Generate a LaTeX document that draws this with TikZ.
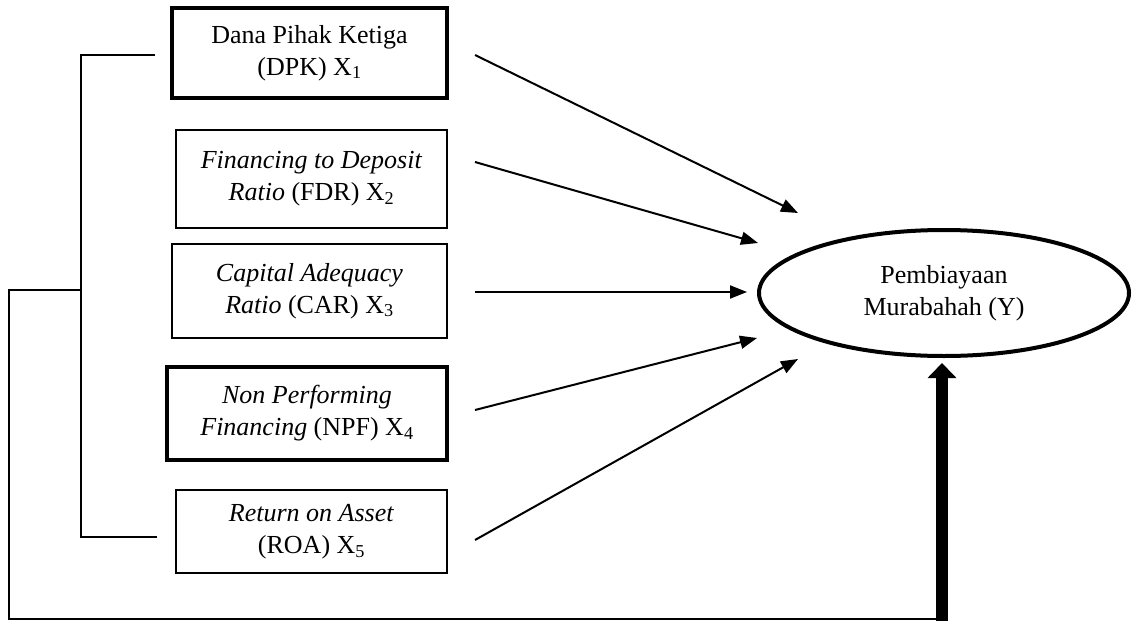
\documentclass[tikz,border=0pt]{standalone}
\usepackage{fontspec}
\setmainfont{Liberation Serif}
\usetikzlibrary{arrows.meta,shapes.geometric,calc}
\begin{document}
\begin{tikzpicture}[x=1pt,y=-1pt,
  box/.style={draw, line width=1.3pt, rectangle, inner sep=0pt, outer sep=0pt, align=center, font=\fontsize{26}{32}\selectfont},
  thickbox/.style={box, line width=4pt},
  link/.style={line width=2pt, -{Triangle[length=17pt,width=13pt]}},
  bracket/.style={line width=1.6pt},
  bigarrow/.style={line width=12pt, -{Triangle[length=15pt,width=28pt]}},
  target/.style={ellipse, draw, line width=4pt, minimum width=370pt, minimum height=126pt, inner sep=0pt, outer sep=0pt, align=center, font=\fontsize{26}{32}\selectfont}
]
\useasboundingbox (0,0) rectangle (1137,621);

\node[thickbox, minimum width=275pt, minimum height=90pt] (b1) at (309.5,53) {Dana Pihak Ketiga\\(DPK) X\textsubscript{1}};
\node[box, minimum width=271pt, minimum height=98pt] (b2) at (311.5,179) {\textit{Financing to Deposit}\\\textit{Ratio} (FDR) X\textsubscript{2}};
\node[box, minimum width=275pt, minimum height=94pt] (b3) at (309.5,291) {\textit{Capital Adequacy}\\\textit{Ratio} (CAR) X\textsubscript{3}};
\node[thickbox, minimum width=280pt, minimum height=93pt] (b4) at (307,413.5) {\textit{Non Performing}\\\textit{Financing} (NPF) X\textsubscript{4}};
\node[box, minimum width=271pt, minimum height=83pt] (b5) at (311.5,531.5) {\textit{Return on Asset}\\(ROA) X\textsubscript{5}};

\node[target] (y) at (944,293) {Pembiayaan\\Murabahah (Y)};

% arrow ends
\coordinate (s1) at ($(b1.east)+(28,2)$);
\coordinate (s2) at ($(b2.east)+(28,-17)$);
\coordinate (s3) at ($(b3.east)+(28,1)$);
\coordinate (s4) at ($(b4.east)+(28,-3.5)$);
\coordinate (s5) at ($(b5.east)+(28,8.5)$);
\coordinate (t1) at ($(y.center)+(-146,-80)$);
\coordinate (t2) at ($(y.center)+(-186,-50)$);
\coordinate (t3) at ($(y.center)+(-197,-1)$);
\coordinate (t4) at ($(y.center)+(-187,45)$);
\coordinate (t5) at ($(y.center)+(-146,66)$);

\draw[link] (s1) -- (t1);
\draw[link] (s2) -- (t2);
\draw[link] (s3) -- (t3);
\draw[link] (s4) -- (t4);
\draw[link] (s5) -- (t5);

% bracket
\coordinate (k1) at ($(b1.west)+(-17,2)$);
\coordinate (k5) at ($(b5.west)+(-19,5.5)$);
\coordinate (kv) at (81,290);
\coordinate (out) at (9,290);
\coordinate (corner) at (9,619);
\coordinate (bot) at (942,619);
\coordinate (botedge) at (942,621);
\draw[bracket] (k1) -- (k1 -| kv) -- (k5 -| kv) -- (k5);
\draw[bracket] (kv) -- (out) -- (corner) -- (bot);
\draw[bigarrow] (botedge) -- ($(y.south)+(-2,7)$);
\end{tikzpicture}
\end{document}
